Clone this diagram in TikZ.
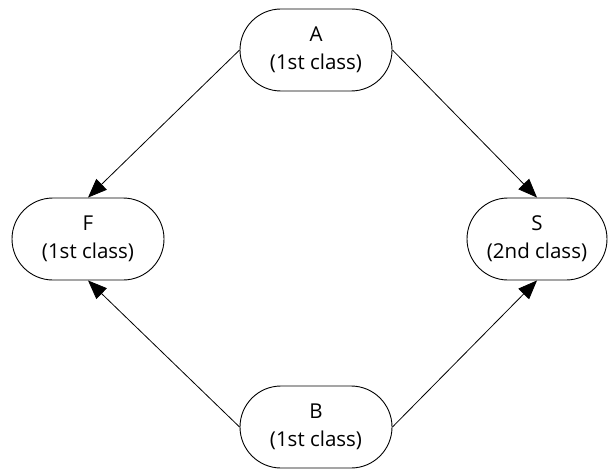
\documentclass[tikz,border=0pt]{standalone}
\usepackage{fontspec}
\usepackage{xcolor}
\usepackage{tikz}
\usetikzlibrary{arrows.meta}
\setmainfont{Open Sans}

\begin{document}
\begin{tikzpicture}[
    state/.style={draw, rectangle, rounded corners=41pt, line width=0.9pt,
        minimum width=152pt, minimum height=82pt, align=center,
        font=\fontsize{20.5}{28}\selectfont},
    link/.style={-{Triangle[length=19pt, width=15pt]}, line width=0.8pt}]
            \useasboundingbox (0pt,0pt) rectangle (609pt,-468pt);

            \node [state] (A) at (316pt,-50pt) {A\\(1st class)};
            \node [state] (F) at (88pt,-239pt) {F\\(1st class)};
            \node [state, minimum width=140pt] (S) at (537pt,-239pt) {S\\(2nd class)};
            \node [state] (B) at (316pt,-427pt) {B\\(1st class)};

            \draw[link] (A.west) -- (F.north);
            \draw[link] (A.east) -- (S.north);
            \draw[link] (B.west) -- (F.south);
            \draw[link] (B.east) -- (S.south);
        \end{tikzpicture}
\end{document}
